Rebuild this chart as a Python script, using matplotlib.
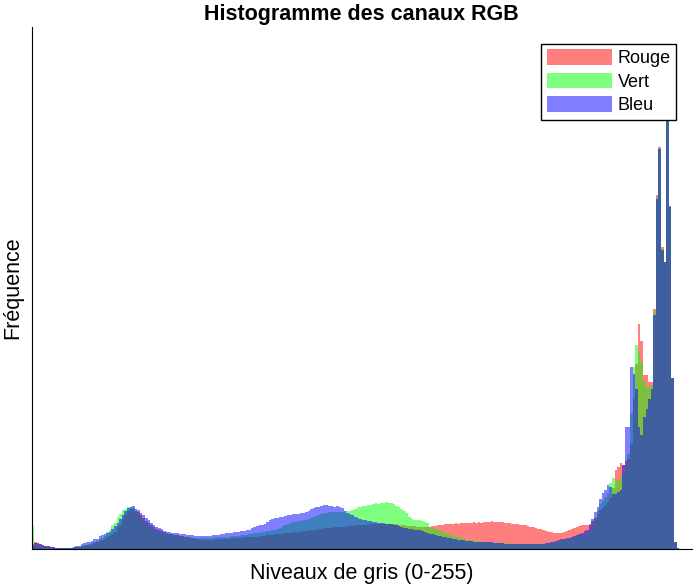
import numpy as np
import matplotlib.pyplot as plt

plt.rcParams['font.family'] = ['Liberation Sans', 'DejaVu Sans']

# ==========================================
# Data (counts per grey level)
# ==========================================
levels = np.arange(256)

red_counts = [
    5, 7, 6, 5, 4, 3, 3, 2, 2, 1, 1, 1, 1, 1, 1, 1,
    2, 2, 2, 3, 3, 4, 4, 5, 6, 7, 8, 9, 10, 12, 13, 15,
    17, 22, 24, 30, 34, 38, 40, 40, 38, 37, 34, 31, 28, 26, 24, 22,
    20, 19, 18, 17, 16, 15, 15, 14, 14, 13, 13, 12, 12, 11, 11, 10,
    10, 9, 9, 9, 9, 9, 9, 10, 10, 10, 10, 10, 10, 11, 11, 11,
    11, 11, 12, 12, 12, 12, 12, 12, 13, 13, 13, 14, 14, 14, 15, 15,
    15, 15, 16, 16, 16, 17, 17, 17, 17, 18, 18, 18, 19, 19, 19, 20,
    20, 21, 21, 21, 21, 22, 22, 22, 22, 22, 23, 23, 23, 24, 24, 24,
    24, 24, 25, 25, 25, 25, 25, 25, 25, 25, 25, 25, 25, 25, 24, 24,
    24, 23, 23, 23, 23, 22, 22, 22, 22, 22, 22, 23, 23, 24, 24, 24,
    25, 25, 25, 25, 26, 25, 26, 26, 26, 26, 26, 27, 26, 27, 26, 27,
    27, 27, 28, 27, 27, 27, 27, 26, 26, 26, 25, 25, 25, 24, 24, 24,
    23, 22, 22, 21, 20, 20, 19, 18, 17, 17, 16, 16, 16, 16, 17, 18,
    19, 20, 21, 22, 23, 24, 24, 24, 25, 28, 31, 35, 39, 41, 44, 47,
    51, 61, 79, 82, 86, 84, 88, 90, 105, 150, 185, 225, 208, 174, 174, 167,
    167, 240, 354, 402, 302, 287, 431, 342, 171, 7, 1, 0, 0, 0, 0, 0,
]

green_counts = [
    23, 3, 4, 3, 2, 2, 2, 1, 1, 1, 1, 1, 1, 1, 1, 1,
    1, 2, 2, 3, 4, 4, 5, 6, 7, 8, 10, 11, 13, 17, 19, 24,
    26, 32, 35, 39, 40, 42, 42, 41, 37, 35, 31, 29, 26, 24, 22, 20,
    19, 17, 16, 16, 15, 15, 14, 14, 13, 13, 12, 12, 12, 12, 11, 11,
    11, 11, 11, 11, 11, 11, 11, 12, 12, 12, 12, 12, 12, 13, 13, 13,
    13, 14, 14, 14, 15, 15, 16, 16, 16, 17, 17, 18, 18, 19, 19, 20,
    21, 23, 24, 25, 26, 27, 27, 28, 28, 29, 29, 30, 31, 32, 33, 34,
    35, 36, 36, 37, 37, 37, 37, 37, 37, 38, 38, 38, 39, 40, 42, 42,
    43, 43, 44, 44, 45, 46, 45, 46, 46, 47, 46, 46, 45, 43, 42, 40,
    38, 36, 32, 30, 29, 29, 29, 28, 27, 26, 22, 21, 20, 19, 18, 17,
    16, 15, 14, 13, 12, 12, 11, 10, 9, 9, 9, 8, 8, 8, 7, 7,
    7, 7, 7, 6, 6, 6, 6, 6, 6, 5, 5, 5, 5, 5, 5, 5,
    5, 5, 5, 5, 5, 5, 5, 5, 6, 6, 7, 7, 8, 9, 10, 10,
    11, 11, 12, 13, 14, 14, 14, 15, 18, 24, 30, 38, 45, 48, 52, 56,
    66, 71, 66, 69, 72, 76, 84, 95, 136, 182, 204, 196, 187, 167, 162, 162,
    164, 237, 352, 401, 300, 285, 431, 342, 171, 7, 1, 0, 0, 0, 0, 0,
]

blue_counts = [
    4, 6, 6, 5, 4, 3, 3, 2, 2, 1, 1, 1, 1, 1, 1, 1,
    2, 3, 3, 5, 6, 7, 7, 8, 10, 10, 13, 14, 15, 16, 17, 20,
    23, 26, 30, 34, 38, 41, 42, 43, 40, 39, 36, 34, 31, 29, 26, 24,
    22, 21, 20, 18, 17, 17, 16, 16, 16, 15, 15, 15, 14, 14, 14, 13,
    13, 13, 13, 13, 13, 13, 14, 14, 14, 15, 15, 16, 16, 16, 17, 17,
    17, 18, 18, 19, 19, 21, 22, 23, 24, 24, 25, 27, 29, 30, 31, 31,
    32, 32, 33, 34, 34, 35, 35, 35, 36, 36, 37, 38, 40, 41, 42, 42,
    43, 44, 44, 43, 43, 42, 43, 42, 41, 38, 36, 35, 34, 32, 31, 30,
    29, 29, 28, 28, 27, 27, 26, 26, 26, 25, 25, 25, 24, 24, 23, 22,
    21, 21, 20, 20, 19, 19, 19, 18, 17, 16, 15, 15, 14, 13, 13, 12,
    12, 11, 11, 10, 10, 9, 9, 9, 8, 8, 8, 7, 7, 7, 7, 7,
    7, 7, 7, 6, 6, 6, 6, 5, 5, 5, 5, 5, 5, 5, 5, 5,
    5, 5, 5, 5, 5, 5, 5, 6, 6, 7, 7, 8, 9, 10, 10, 11,
    11, 12, 13, 14, 15, 16, 18, 19, 24, 30, 37, 42, 50, 56, 59, 64,
    62, 55, 55, 57, 59, 84, 122, 122, 182, 175, 160, 122, 114, 132, 140, 150,
    160, 234, 350, 400, 299, 287, 431, 343, 171, 7, 1, 0, 0, 0, 0, 0,
]

channel_labels = ['Rouge', 'Vert', 'Bleu']
channel_colors = ['red', 'lime', 'blue']

# ==========================================
# Plot
# ==========================================
fig = plt.figure(figsize=(6.95, 5.84), dpi=100)
ax = fig.add_axes([31.5 / 695, 35 / 584, 660.5 / 695, 522 / 584])

for counts, color, label in zip([red_counts, green_counts, blue_counts], channel_colors, channel_labels):
    ax.hist(levels, bins=256, range=(0, 256), weights=counts, color=color, alpha=0.5, label=label)

ax.set_xlim(0, 256)
ax.set_ylim(0, 522)
ax.set_xticks([])
ax.set_yticks([])
ax.spines[['top', 'right']].set_visible(False)

ax.set_title('Histogramme des canaux RGB', fontsize=15.5, fontweight='bold', pad=5)
ax.set_xlabel('Niveaux de gris (0-255)', fontsize=15.5, labelpad=10)
ax.set_ylabel('Fréquence', fontsize=15.5, labelpad=6)

ax.legend(loc='upper right', bbox_to_anchor=(676 / 695, 1 - 44 / 584), bbox_transform=fig.transFigure,
          borderaxespad=0, fontsize=13, fancybox=False, edgecolor='black', framealpha=1,
          handlelength=3.6, handleheight=0.95, handletextpad=0.33, borderpad=0.3, labelspacing=0.3)

fig.savefig('out.png', dpi=100)
